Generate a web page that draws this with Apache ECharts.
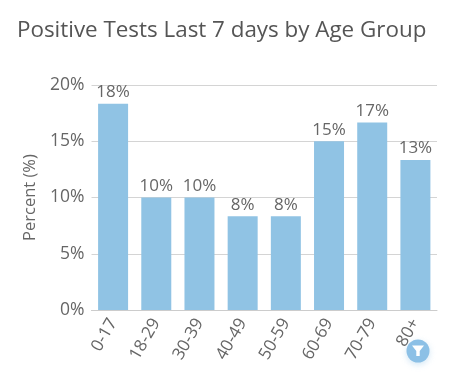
<!DOCTYPE html>
<html><head><meta charset="utf-8">
<style>html,body{margin:0;padding:0;background:#fff}#c{width:467px;height:384px}</style>
<script src="https://cdn.jsdelivr.net/npm/echarts@6/dist/echarts.min.js"></script>
</head><body><div id="c"></div>
<script>
const categories = ['0-17','18-29','30-39','40-49','50-59','60-69','70-79','80+'];
const percentValues = [18.33,10,10,8.33,8.33,15,16.67,13.33];
const yTicks = [0,5,10,15,20];
const FONT = '"Open Sans", sans-serif';
const chart = echarts.init(document.getElementById('c'), null, {renderer:'canvas'});
chart.setOption({
  animation:false,
  backgroundColor:'#fff',
  title:{text:'Positive Tests Last 7 days by Age Group',left:12,top:15,
    textStyle:{fontFamily:FONT,fontSize:22.4,fontWeight:'normal',color:'#555'}},
  grid:{left:91.5,right:30,top:85,bottom:74,containLabel:false},
  xAxis:{type:'category',data:categories,
    axisLine:{lineStyle:{color:'#ccc'}},axisTick:{show:false},
    axisLabel:{rotate:60,fontFamily:FONT,fontSize:17,color:'#666',margin:10,interval:0}},
  yAxis:{type:'value',min:yTicks[0],max:yTicks[yTicks.length-1],interval:5,
    name:'Percent (%)',nameLocation:'middle',nameGap:51,nameRotate:90,
    nameTextStyle:{fontFamily:FONT,fontSize:16.5,color:'#666',padding:[0,0,0,0]},
    axisLine:{show:false},axisTick:{show:false},
    splitLine:{lineStyle:{color:'#d4d4d4'}},
    axisLabel:{formatter:'{value}%',fontFamily:FONT,fontSize:17.5,color:'#666',margin:7,padding:[2,0,0,0]}},
  series:[{type:'bar',data:percentValues,barWidth:30,
    itemStyle:{color:'#90c3e4'},
    label:{show:true,position:'top',distance:3,fontFamily:FONT,fontSize:17,color:'#666',
      formatter:p=>Math.round(p.value)+'%'}}],
  graphic:[
    {type:'circle',shape:{cx:418,cy:351,r:11.5},z:20,
      style:{fill:'#8cc0e6',shadowBlur:6,shadowColor:'rgba(140,192,230,0.4)',shadowOffsetY:2}},
    {type:'polygon',shape:{points:[[412,345.5],[424,345.5],[419.7,351],[419.7,356],[416.3,356],[416.3,351]]},z:21,
      style:{fill:'#fff'}}
  ]
});
</script></body></html>
